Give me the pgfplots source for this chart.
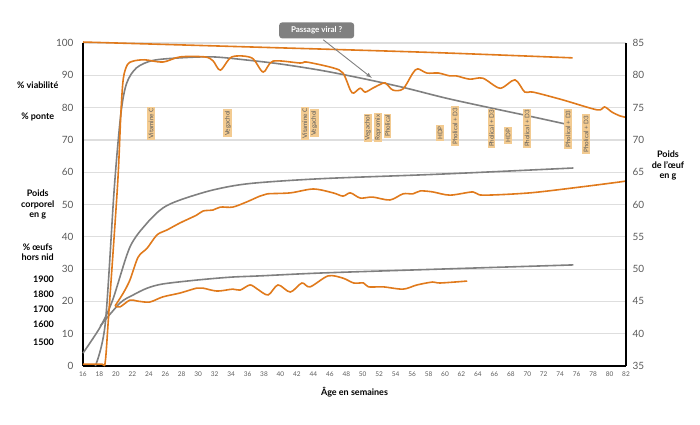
\documentclass[border=0pt]{standalone}
\usepackage{fontspec}
\setmainfont{Lato}
\usepackage{pgfplots}
\pgfplotsset{compat=1.18}
\definecolor{orng}{RGB}{224,122,28}
\definecolor{gry}{RGB}{128,128,128}
\definecolor{tanbox}{RGB}{243,203,145}
\definecolor{ticktxt}{RGB}{90,90,90}
\begin{document}
\begin{tikzpicture}[x=1pt,y=1pt]
\path[use as bounding box] (-83,-58) rectangle (617,366);
\begin{axis}[at={(0,0)},anchor=south west,scale only axis,
  width=543pt,height=323pt,
  xmin=16,xmax=82,ymin=0,ymax=100,
  axis x line*=bottom, axis y line*=left,
  axis line style={line width=1.3pt,black},
  xtick={16,18,...,82}, ytick={0,10,...,100},
  major tick length=0pt,
  ymajorgrids, grid style={draw=black!13,line width=1.2pt},
  /pgf/number format/assume math mode=true,
  x tick label style={font=\fontsize{6.5}{7}\selectfont,text=ticktxt,yshift=-2pt},
  y tick label style={font=\fontsize{10}{12}\selectfont,text=ticktxt,xshift=-6pt},
  xlabel={\bfseries Âge en semaines},
  xlabel style={font=\fontsize{9}{11}\selectfont,yshift=-4pt},
  clip=false,
  every axis plot/.append style={line width=1.6pt,smooth,tension=0.5},
]
% standards (grey)
\addplot[gry] coordinates {(17.5,0) (18.7,13) (19.8,55) (20.6,78) (21.3,87.5) (22.5,92.3) (24.5,94.6) (27.8,95.4) (31.8,95.7) (36,94.7) (40,93.5) (45,91.5) (50,89) (55,86.2) (60,83) (65,80.2) (70,77.5) (74.5,75)};
\addplot[gry] coordinates {(16,4) (18.1,12.1) (19.6,20.4) (21.7,36.8) (23.8,44.3) (25.7,48.9) (27.8,51.4) (31.8,54.5) (36.3,56.5) (45,58) (59.4,59.4) (75.6,61.3)};
\addplot[gry] coordinates {(18.1,12.4) (20.5,19.5) (22.1,22) (23.8,24.1) (25.7,25.4) (29.8,26.6) (33.9,27.5) (37.5,27.9) (45,28.8) (59.4,30) (75.6,31.3)};
% actual (orange)
\addplot[orng] coordinates {(16,100.3) (36,98.8) (58,97.1) (75.5,95.4)};
\addplot[orng] coordinates {(16,0.6) (18.3,0.6) (18.7,1.2) (19.1,15) (20.2,56) (20.6,78) (20.9,89) (21.4,93.3) (22.1,94.4) (23.5,94.8) (25.7,94.1) (27.8,95.7) (30.8,95.7) (31.8,94.5) (32.7,91.6) (34.1,95.7) (36.5,95.4) (37.9,91) (39.1,94.4) (42.4,93.8) (43.2,94.1) (46.4,92.3) (47.6,90.7) (48.5,85.4) (48.9,84.5) (49.7,86) (50.3,84.8) (51.2,86) (52.5,87.6) (52.9,87.3) (53.7,85.4) (54.9,85.8) (56.1,90.7) (56.7,92) (57.8,90.7) (59.2,90.7) (60.6,89.8) (61.4,89.8) (63,88.8) (64.6,89.1) (66.7,86) (68.5,88.6) (69.7,84.8) (70.7,84.8) (74.3,82.4) (78.5,79.3) (79.4,80.2) (80.3,78.6) (81.3,77.4) (82,77)};
\addplot[orng] coordinates {(19.9,18.6) (20.9,22.6) (21.7,26.6) (22.7,33.7) (23.8,36.5) (25,40.6) (26.2,42.1) (27.8,44.3) (29.8,46.7) (30.6,48) (31.8,48.3) (32.7,49.2) (34.2,49.2) (35.9,50.8) (37.5,52.6) (38.4,53.3) (41.2,53.6) (44,54.8) (46.4,53.6) (47.6,52.6) (48.5,53.6) (49.7,52) (51.2,52.3) (53.3,51.4) (54.9,53.3) (56.1,53.3) (57,54.2) (58.5,53.9) (60.6,52.9) (63.4,53.9) (64.6,52.9) (70.3,53.6) (76.4,55.4) (81.3,57) (82,57.3)};
\addplot[orng] coordinates {(19.9,18.6) (20.5,18.3) (21.7,20.4) (22.6,20.1) (24.1,19.8) (25.7,21.4) (27.8,22.6) (29.8,24.1) (30.6,24.1) (32.3,23.2) (34.2,23.8) (35.1,23.5) (36.3,25.1) (37.2,23.8) (38.5,22) (39.7,25.1) (41.2,22.9) (42.6,25.7) (43.6,24.5) (45.8,27.9) (47.6,27.2) (48.9,25.7) (50.1,25.7) (50.7,24.5) (52.5,24.5) (54.9,23.8) (56.6,25.1) (58.5,26) (59.4,25.7) (62.7,26.3)};
% left-hand labels
\begin{scope}[every node/.style={font=\fontsize{9}{10.5}\selectfont\bfseries,align=center}]
\node at (axis cs:10.5,87) {\% viabilité};
\node at (axis cs:10.5,77) {\% ponte};
\node at (axis cs:10.5,50) {Poids\\corporel\\en g};
\node at (axis cs:10.5,35.3) {\% œufs\\hors nid};
\node[anchor=east] at (axis cs:12.9,27) {1900};
\node[anchor=east] at (axis cs:12.9,22.3) {1800};
\node[anchor=east] at (axis cs:12.9,17.6) {1700};
\node[anchor=east] at (axis cs:12.9,13) {1600};
\node[anchor=east] at (axis cs:12.9,7.4) {1500};
\node at (axis cs:87.1,62) {Poids\\de l’œuf\\en g};
\end{scope}
% supplements
\begin{scope}[every node/.style={rotate=90,fill=tanbox,inner xsep=1.5pt,inner ysep=1.6pt,text=ticktxt,font=\fontsize{6.3}{7}\selectfont}]
\node at (axis cs:24.27,75.1) {Vitamine C};
\node at (axis cs:33.62,75.1) {Vegachol};
\node at (axis cs:42.98,75.1) {Vitamine C};
\node at (axis cs:44.08,75.1) {Vegachol};
\node at (axis cs:50.64,73.8) {Vegachol};
\node at (axis cs:51.86,73.8) {Repromix};
\node at (axis cs:53.01,74.3) {Pholical};
\node at (axis cs:59.4,72.1) {HDP};
\node at (axis cs:61.22,74.3) {Pholical + D3};
\node at (axis cs:65.65,73.5) {Pholical + D3};
\node at (axis cs:67.66,71.4) {HDP};
\node at (axis cs:69.97,73.5) {Pholical + D3};
\node at (axis cs:74.95,73.4) {Pholical + D3};
\node at (axis cs:77.14,71.8) {Pholical + D3};
\end{scope}
\draw[gry,line width=0.9pt,-latex] (axis cs:45.2,101) -- (axis cs:51.1,89.2);
\node[fill=gry,text=white,rounded corners=3pt,minimum width=75pt,minimum height=16pt,inner sep=1pt,font=\fontsize{8}{9}\selectfont\bfseries] at (axis cs:44.4,103.9) {Passage viral ?};
\end{axis}
\begin{axis}[at={(0,0)},anchor=south west,scale only axis,
  width=543pt,height=323pt,
  xmin=16,xmax=82,ymin=35,ymax=85,
  axis y line*=right, axis x line=none,
  axis line style={line width=1.3pt,black},
  ytick={35,40,...,85}, major tick length=0pt,
  /pgf/number format/assume math mode=true,
  y tick label style={font=\fontsize{10}{12}\selectfont,text=ticktxt,xshift=3pt},
]
\addplot[draw=none] coordinates {(16,35) (82,85)};
\end{axis}
\end{tikzpicture}
\end{document}
